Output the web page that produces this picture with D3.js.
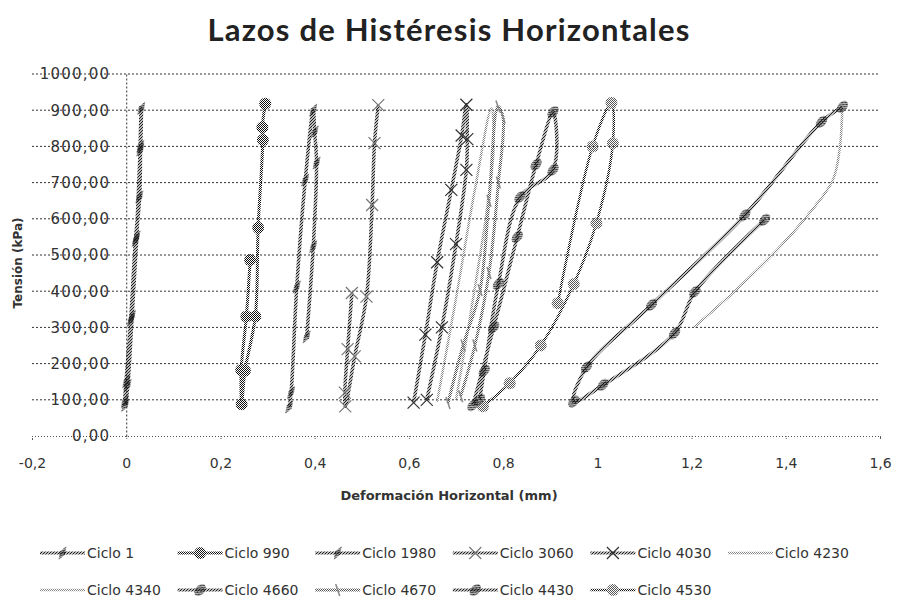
<!DOCTYPE html>
<html>
<head>
<meta charset="utf-8">
<script src="https://cdn.jsdelivr.net/npm/d3@7"></script>
<style>
body { margin: 0; background: #fff; }
text { font-family: "DejaVu Sans", Verdana, sans-serif; fill: #333; }
</style>
</head>
<body>
<svg id="chart"></svg>
<script>
// valores: [deformacion (mm), tension (kPa)]
const ciclo1 = [[-0.002,85],[0.003,140],[0.012,330],[0.022,550],[0.03,790],[0.032,905],[0.03,800],[0.028,660],[0.02,540],[0.01,320],[0.0,150],[-0.003,95]];
const ciclo990 = [[0.263,486],[0.255,330],[0.244,182],[0.245,88],[0.252,180],[0.274,330],[0.28,575],[0.29,818],[0.289,853],[0.295,918]];
const ciclo1980 = [[0.383,274],[0.397,523],[0.404,754],[0.4,840],[0.397,900],[0.38,707],[0.362,412],[0.35,120],[0.346,80]];
const ciclo3060 = [[0.479,395],[0.47,240],[0.464,120],[0.465,82],[0.485,220],[0.51,385],[0.522,638],[0.527,809],[0.535,914]];
const ciclo4030 = [[0.61,92],[0.635,280],[0.66,480],[0.69,680],[0.712,830],[0.722,915],[0.724,820],[0.722,735],[0.7,530],[0.67,300],[0.638,100]];
const ciclo4230 = [[0.66,95],[0.7,380],[0.74,680],[0.775,905],[0.78,800],[0.765,620],[0.73,330],[0.7,100]];
const ciclo4340 = [[1.205,300],[1.3,410],[1.387,522],[1.45,615],[1.5,707],[1.515,800],[1.52,905]];
const ciclo4660 = [[1.355,597],[1.207,398],[1.164,284],[1.012,141],[0.95,95],[0.977,190],[1.115,362],[1.313,610],[1.476,868],[1.52,909]];
const ciclo4670 = [[0.683,91],[0.715,250],[0.751,403],[0.77,650],[0.789,910],[0.8,880],[0.79,700],[0.77,450],[0.74,250],[0.71,110]];
const ciclo4430 = [[0.736,85],[0.78,300],[0.83,550],[0.87,750],[0.906,895],[0.906,735],[0.836,660],[0.79,420],[0.76,180],[0.75,100]];
const ciclo4530 = [[0.916,367],[0.99,800],[1.03,920],[1.033,809],[0.998,588],[0.95,420],[0.88,250],[0.814,146],[0.757,82]];

const names = ["Ciclo 1","Ciclo 990","Ciclo 1980","Ciclo 3060","Ciclo 4030","Ciclo 4230",
               "Ciclo 4340","Ciclo 4660","Ciclo 4670","Ciclo 4430","Ciclo 4530"];
const series = [ciclo1, ciclo990, ciclo1980, ciclo3060, ciclo4030, ciclo4230,
                ciclo4340, ciclo4660, ciclo4670, ciclo4430, ciclo4530];

const xTicks = [-0.2, 0, 0.2, 0.4, 0.6, 0.8, 1, 1.2, 1.4, 1.6];
const yTicks = [0, 100, 200, 300, 400, 500, 600, 700, 800, 900, 1000];

// estilo de cada serie (linea y marcador)
const styles = [
  {line: "hatch", w: 4, mark: "blade", fill: "hatch"},
  {line: "check", w: 3, mark: "circle", fill: "check"},
  {line: "hatch", w: 3.5, mark: "blade", fill: "hatch"},
  {line: "hatch", w: 3.5, mark: "x", fill: "#777"},
  {line: "hatch", w: 3.5, mark: "x", fill: "#333"},
  {line: "dots", w: 2.5, mark: null},
  {line: "dots", w: 2.5, mark: null},
  {line: "hatch", w: 3.5, mark: "oval", fill: "hatch"},
  {line: "checkLight", w: 3, mark: "tick", fill: "#888"},
  {line: "hatch", w: 3.5, mark: "oval", fill: "hatch"},
  {line: "check", w: 2.5, mark: "circle", fill: "checkLight"}
];

let width = 898, height = 606;
let svg = d3.select("#chart").attr("width", width).attr("height", height);

let x = d3.scaleLinear().domain([-0.2, 1.6]).range([32, 880]);
let y = d3.scaleLinear().domain([0, 1000]).range([436, 74]);

const es = d3.formatLocale({decimal: ",", thousands: ".", grouping: [3], currency: ["", "€"], minus: "-"});
const fmtY = es.format(".2f");
const fmtX = es.format("~g");

// patrones tramados
const defs = svg.append("defs");
function hatchPattern(id, gap, col) {
  let p = defs.append("pattern").attr("id", id).attr("patternUnits", "userSpaceOnUse")
    .attr("width", gap).attr("height", gap);
  p.append("path")
    .attr("d", `M0,${gap} L${gap},0 M-1,1 L1,-1 M${gap-1},${gap+1} L${gap+1},${gap-1}`)
    .attr("stroke", col).attr("stroke-width", 1.1);
}
function checkPattern(id, gap, col) {
  let p = defs.append("pattern").attr("id", id).attr("patternUnits", "userSpaceOnUse")
    .attr("width", gap).attr("height", gap);
  p.append("rect").attr("width", gap / 2).attr("height", gap / 2).attr("fill", col);
  p.append("rect").attr("x", gap / 2).attr("y", gap / 2).attr("width", gap / 2).attr("height", gap / 2).attr("fill", col);
}
hatchPattern("hatch", 3, "#111");
checkPattern("check", 2, "#111");
checkPattern("checkLight", 2, "#555");
checkPattern("dots", 2, "#888");

const paint = v => (v === "hatch" || v === "check" || v === "checkLight" || v === "dots") ? `url(#${v})` : v;

// titulo
svg.append("text").attr("x", 449).attr("y", 41).attr("text-anchor", "middle")
  .style("font-family", "Lato, 'Liberation Sans', sans-serif")
  .style("font-size", "31px").style("letter-spacing", "1.2px")
  .style("font-weight", "bold").style("fill", "#222")
  .text("Lazos de Histéresis Horizontales");

// rejilla horizontal
svg.append("g").selectAll("line").data(yTicks.filter(d => d > 0)).enter().append("line")
  .attr("x1", x(-0.2)).attr("x2", x(1.6))
  .attr("y1", d => y(d)).attr("y2", d => y(d))
  .attr("stroke", "#333").attr("stroke-dasharray", "2,2");

// eje x
let gx = svg.append("g").attr("transform", `translate(0, ${y(0)})`)
  .call(d3.axisBottom(x).tickValues(xTicks).tickFormat(fmtX).tickSize(4).tickPadding(18));
gx.select(".domain").attr("stroke", "#555").attr("stroke-dasharray", "1,2");
gx.selectAll(".tick line").attr("stroke", "#666").attr("stroke-dasharray", "1,1");
gx.selectAll(".tick text").style("font-family", "'DejaVu Sans', sans-serif")
  .style("font-size", "14px").style("fill", "#333");

// eje y (cruza en x = 0)
let gy = svg.append("g").attr("transform", `translate(${x(0)}, 0)`)
  .call(d3.axisLeft(y).tickValues(yTicks).tickFormat(fmtY).tickSize(0).tickPadding(16));
gy.select(".domain").attr("stroke", "#333").attr("stroke-dasharray", "2,2");
gy.selectAll(".tick text").style("font-family", "'DejaVu Sans', sans-serif")
  .style("font-size", "15px").style("letter-spacing", "1.2px").style("fill", "#333");

svg.append("text").attr("x", 449).attr("y", 500).attr("text-anchor", "middle")
  .style("font-size", "13px").style("font-weight", "bold")
  .text("Deformación Horizontal (mm)");
svg.append("text").attr("transform", "translate(22, 263) rotate(-90)").attr("text-anchor", "middle")
  .style("font-size", "12px").style("font-weight", "bold")
  .text("Tensión (kPa)");

// marcadores
function drawMark(g, st, px, py) {
  if (!st.mark) return;
  if (st.mark === "circle") {
    g.append("circle").attr("cx", px).attr("cy", py).attr("r", 6).attr("fill", paint(st.fill));
  } else if (st.mark === "oval") {
    g.append("ellipse").attr("cx", 0).attr("cy", 0).attr("rx", 4.5).attr("ry", 7)
      .attr("transform", `translate(${px},${py}) rotate(40)`).attr("fill", paint(st.fill));
  } else if (st.mark === "blade") {
    g.append("path").attr("d", "M0,-8 L3,0 L0,8 L-3,0Z")
      .attr("transform", `translate(${px},${py}) rotate(30)`).attr("fill", paint(st.fill));
  } else if (st.mark === "x") {
    g.append("path").attr("d", "M-6,-6 L6,6 M-6,6 L6,-6")
      .attr("transform", `translate(${px},${py})`).attr("stroke", st.fill).attr("stroke-width", 1.2);
  } else if (st.mark === "tick") {
    g.append("path").attr("d", "M-2,-6 L2,6")
      .attr("transform", `translate(${px},${py})`).attr("stroke", st.fill).attr("stroke-width", 1.5);
  }
}

let line = d3.line().x(d => x(d[0])).y(d => y(d[1])).curve(d3.curveCatmullRom.alpha(0.5));

series.forEach((data, i) => {
  let st = styles[i];
  let g = svg.append("g").attr("class", "serie");
  g.append("path").datum(data).attr("d", line)
    .attr("fill", "none").attr("stroke", paint(st.line)).attr("stroke-width", st.w);
  data.forEach(d => drawMark(g, st, x(d[0]), y(d[1])));
});

// leyenda
let leg = svg.append("g");
names.forEach((name, i) => {
  let col = i % 6, row = Math.floor(i / 6);
  let lx = 40 + col * 137.6, ly = 553 + row * 37;
  let st = styles[i];
  let g = leg.append("g");
  g.append("line").attr("x1", lx).attr("x2", lx + 45).attr("y1", ly).attr("y2", ly)
    .attr("stroke", paint(st.line)).attr("stroke-width", Math.min(st.w, 3));
  drawMark(g, st, lx + 22.5, ly);
  g.append("text").attr("x", lx + 47).attr("y", ly + 5).style("font-size", "14px").text(name);
});
</script>
</body>
</html>
